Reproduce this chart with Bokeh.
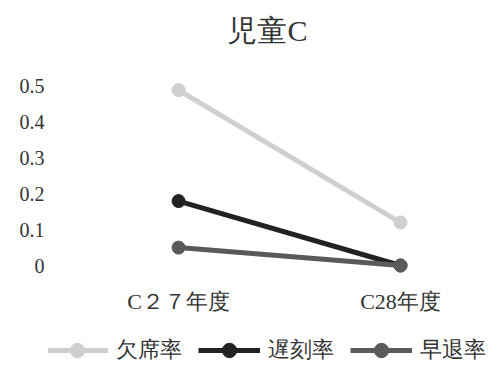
from bokeh.plotting import figure
from bokeh.models import Range1d, FixedTicker, Legend, LegendItem, Label
from bokeh.embed import file_html
from bokeh.resources import INLINE

title_text = "児童C"
categories = ["C２７年度", "C28年度"]
absence = [0.49, 0.12]
late = [0.18, 0.0]
early = [0.05, 0.0]
series_names = ["欠席率", "遅刻率", "早退率"]
y_ticks = [0, 0.1, 0.2, 0.3, 0.4, 0.5]

FONT = "Liberation Serif"

xs = list(range(len(categories)))

p = figure(width=495, height=365, output_backend="svg", toolbar_location=None,
           x_range=Range1d(-0.586, 1.428), y_range=Range1d(-0.2793, 0.7402),
           min_border_left=48, min_border_right=0, min_border_top=0, min_border_bottom=0)
p.title.visible = False

p.xgrid.visible = False
p.ygrid.visible = False
p.outline_line_color = None

p.xaxis.ticker = FixedTicker(ticks=xs)
p.xaxis.major_label_overrides = {i: c for i, c in enumerate(categories)}
p.xaxis.fixed_location = -0.042
p.yaxis.ticker = FixedTicker(ticks=y_ticks)
p.yaxis.major_label_overrides = {0: "0"}
for ax in (p.xaxis[0], p.yaxis[0]):
    ax.axis_line_color = None
    ax.major_tick_line_color = None
    ax.minor_tick_line_color = None
    ax.major_tick_out = 0
    ax.major_label_text_font = FONT
    ax.major_label_text_color = "#333333"
p.yaxis.major_label_text_font_size = "20px"
p.xaxis.major_label_text_font_size = "22px"
p.yaxis.major_label_standoff = 4
p.xaxis.major_label_standoff = 8

# chart title, placed in screen units above the plotted area
p.add_layout(Label(x=219, y=335, x_units="screen", y_units="screen", text=title_text,
                   text_align="center", text_baseline="middle", text_font=FONT,
                   text_font_size="30px", text_color="#333333"))

colors = ["#cfcfcf", "#222222", "#5a5a5a"]
items = []
for name, vals, col in zip(series_names, [absence, late, early], colors):
    l = p.line(xs, vals, line_color=col, line_width=5)
    s = p.scatter(xs, vals, size=13, fill_color=col, line_color=col)
    items.append(LegendItem(label=name, renderers=[l, s]))

legend = Legend(items=items, orientation="horizontal", location=(-2, -3),
                glyph_width=62, glyph_height=36, label_text_font=FONT,
                label_text_font_size="22px", label_text_color="#333333",
                border_line_color=None, background_fill_alpha=0,
                spacing=16, label_standoff=8, padding=4, margin=0)
p.add_layout(legend, "center")

open("out.html", "w").write(file_html(p, INLINE))
